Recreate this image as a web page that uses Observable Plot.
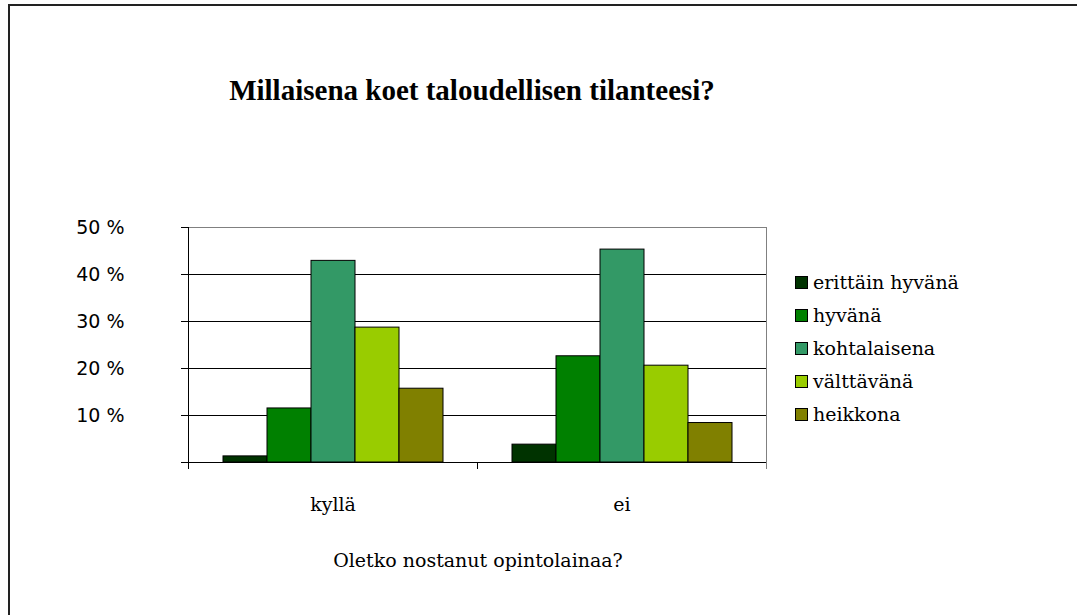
<!DOCTYPE html>
<html><head><meta charset="utf-8">
<script src="https://cdn.jsdelivr.net/npm/d3@7"></script>
<script src="https://cdn.jsdelivr.net/npm/@observablehq/plot@0.6"></script>
<style>
body{margin:0;background:#fff;}
#wrap{position:relative;width:1077px;height:615px;overflow:hidden;background:#fff;}
#wrap svg{position:absolute;left:0;top:0;}
#border{position:absolute;left:8px;top:4px;right:-10px;bottom:-10px;border-left:2px solid #222;border-top:2px solid #222;}
#title{position:absolute;left:0;width:944px;top:76px;line-height:29px;text-align:center;font-family:"Liberation Serif";font-weight:bold;font-size:29px;white-space:nowrap;}
#xlabel{position:absolute;left:0;width:956px;top:551px;line-height:19px;text-align:center;font-family:"DejaVu Serif";font-size:19px;white-space:nowrap;}
.lg{position:absolute;left:795px;height:33px;font-family:"DejaVu Serif";font-size:19px;line-height:19px;white-space:nowrap;}
.lg .sw{position:absolute;left:0;top:3px;width:11px;height:11px;border:1px solid #000;}
.lg .tx{position:absolute;left:18px;top:0;}
</style>
</head><body>
<div id="wrap">
  <div id="border"></div>
  <div id="title"></div>
  <div id="xlabel"></div>
</div>
<script>
const titleText = "Millaisena koet taloudellisen tilanteesi?";
const xAxisLabel = "Oletko nostanut opintolainaa?";
const categories = ["kyllä", "ei"];
const series = ["erittäin hyvänä", "hyvänä", "kohtalaisena", "välttävänä", "heikkona"];
const valuesKylla = [1.3, 11.5, 42.9, 28.7, 15.7];
const valuesEi = [3.8, 22.6, 45.3, 20.6, 8.4];
const colors = ["#003300", "#008000", "#339966", "#99CC00", "#808000"];
const yTicks = [0, 10, 20, 30, 40, 50];
const gridValues = [10, 20, 30, 40];

const valuesByCategory = [valuesKylla, valuesEi];
const data = categories.flatMap((c, ci) =>
  series.map((s, si) => ({category: c, series: s, value: valuesByCategory[ci][si]})));

const wrap = document.getElementById("wrap");
document.getElementById("title").textContent = titleText;
document.getElementById("xlabel").textContent = xAxisLabel;

const chart = Plot.plot({
  width: 1077,
  height: 615,
  marginLeft: 187,
  marginRight: 311,
  marginTop: 227,
  marginBottom: 153,
  style: {fontFamily: "DejaVu Serif", fontSize: "19px", color: "#000", background: "transparent", overflow: "visible"},
  fx: {domain: categories, padding: 0, label: null},
  x: {domain: series, paddingInner: 0, paddingOuter: 0.72, axis: null},
  y: {domain: [0, 50], label: null},
  color: {domain: series, range: colors},
  marks: [
    Plot.ruleY(gridValues, {stroke: "#000", strokeWidth: 1}),
    Plot.ruleY([50], {stroke: "#808080", strokeWidth: 1}),
    Plot.barY(data, {fx: "category", x: "series", y: "value", fill: "series", stroke: "#000", strokeWidth: 1}),
    Plot.ruleY([0], {stroke: "#000", strokeWidth: 1}),
    Plot.frame({anchor: "right", stroke: "#808080", facetAnchor: "right", insetBottom: -6}),
    Plot.frame({anchor: "left", stroke: "#000", insetTop: 235, insetBottom: -6}),
    Plot.frame({anchor: "left", stroke: "#000", facetAnchor: "left", insetBottom: -6}),
    Plot.axisY({ticks: yTicks, tickFormat: d => d === 0 ? "" : d + " %", tickSize: 7, tickPadding: 57, fontSize: 19, fontFamily: "DejaVu Sans", anchor: "left", label: null}),
    Plot.axisFx({tickSize: 0, tickPadding: 35, fontSize: 19, label: null, anchor: "bottom"})
  ]
});
wrap.appendChild(chart);

series.forEach((s, i) => {
  const row = document.createElement("div");
  row.className = "lg";
  row.style.top = (273 + 33 * i) + "px";
  const sw = document.createElement("div");
  sw.className = "sw";
  sw.style.background = colors[i];
  const tx = document.createElement("div");
  tx.className = "tx";
  tx.textContent = s;
  row.appendChild(sw);
  row.appendChild(tx);
  wrap.appendChild(row);
});
</script>
</body></html>
